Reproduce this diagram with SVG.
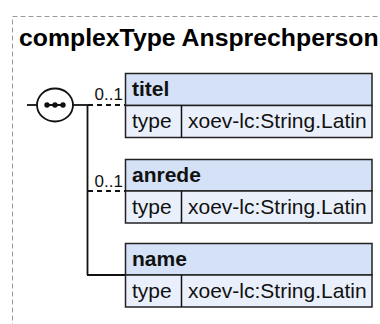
<svg xmlns="http://www.w3.org/2000/svg" width="380" height="324" viewBox="0 0 380 324">
<style>
.frame{fill:none;stroke:#999;stroke-width:1;stroke-dasharray:5,3}
.title{font-family:"Liberation Sans",Arial,sans-serif;font-weight:bold;font-size:24.8px;fill:#000}
.hdr{fill:#d4e1f6;stroke:#222;stroke-width:1.5}
.row{fill:#eaf0fb;stroke:#222;stroke-width:1.5}
.bold{font-family:"Liberation Sans",Arial,sans-serif;font-weight:bold;font-size:21px;fill:#111}
.txt{font-family:"Liberation Sans",Arial,sans-serif;font-size:21px;fill:#111}
.lbl{font-family:"Liberation Sans",Arial,sans-serif;font-size:17px;fill:#111}
.ln{fill:none;stroke:#111;stroke-width:1.8}
.dash{fill:none;stroke:#111;stroke-width:1.8;stroke-dasharray:5,4}
</style>
<rect class="frame" x="12.5" y="16.5" width="380" height="320"/>
<text class="title" x="19" y="46">complexType Ansprechperson</text>
<g id="connectors">
<line class="ln" x1="27" y1="105" x2="37" y2="105"/>
<line class="ln" x1="73" y1="105" x2="88" y2="105"/>
<line class="ln" x1="87.5" y1="105" x2="87.5" y2="275"/>
<line class="dash" x1="88" y1="105" x2="125" y2="105"/>
<line class="dash" x1="88" y1="191" x2="125" y2="191"/>
<line class="ln" x1="87" y1="275" x2="125" y2="275"/>
<text class="lbl" x="94.5" y="100">0..1</text>
<text class="lbl" x="94.5" y="187">0..1</text>
</g>
<g id="sequence">
<ellipse cx="55" cy="105" rx="18" ry="16.5" fill="#fff" stroke="#111" stroke-width="1.8"/>
<line x1="46" y1="105" x2="64" y2="105" stroke="#111" stroke-width="2"/>
<circle cx="47" cy="105" r="2.7" fill="#111"/>
<circle cx="55" cy="105" r="2.7" fill="#111"/>
<circle cx="63" cy="105" r="2.7" fill="#111"/>
</g>
<g id="titel">
<rect class="hdr" x="125.5" y="73.5" width="246.5" height="32"/>
<rect class="row" x="125.5" y="105.5" width="246.5" height="32"/>
<line class="ln" x1="181.5" y1="105.5" x2="181.5" y2="137.5" style="stroke-width:1.5"/>
<text class="bold" x="132" y="96">titel</text>
<text class="txt" x="132" y="128">type</text>
<text class="txt" x="188" y="128">xoev-lc:String.Latin</text>
</g>
<g id="anrede">
<rect class="hdr" x="125.5" y="159.5" width="246.5" height="31.5"/>
<rect class="row" x="125.5" y="191" width="246.5" height="32"/>
<line class="ln" x1="181.5" y1="191" x2="181.5" y2="223" style="stroke-width:1.5"/>
<text class="bold" x="132" y="182">anrede</text>
<text class="txt" x="132" y="214">type</text>
<text class="txt" x="188" y="214">xoev-lc:String.Latin</text>
</g>
<g id="name">
<rect class="hdr" x="125.5" y="243.5" width="246.5" height="31.5"/>
<rect class="row" x="125.5" y="275" width="246.5" height="32"/>
<line class="ln" x1="181.5" y1="275" x2="181.5" y2="307" style="stroke-width:1.5"/>
<text class="bold" x="132" y="266">name</text>
<text class="txt" x="132" y="298">type</text>
<text class="txt" x="188" y="298">xoev-lc:String.Latin</text>
</g>
</svg>
